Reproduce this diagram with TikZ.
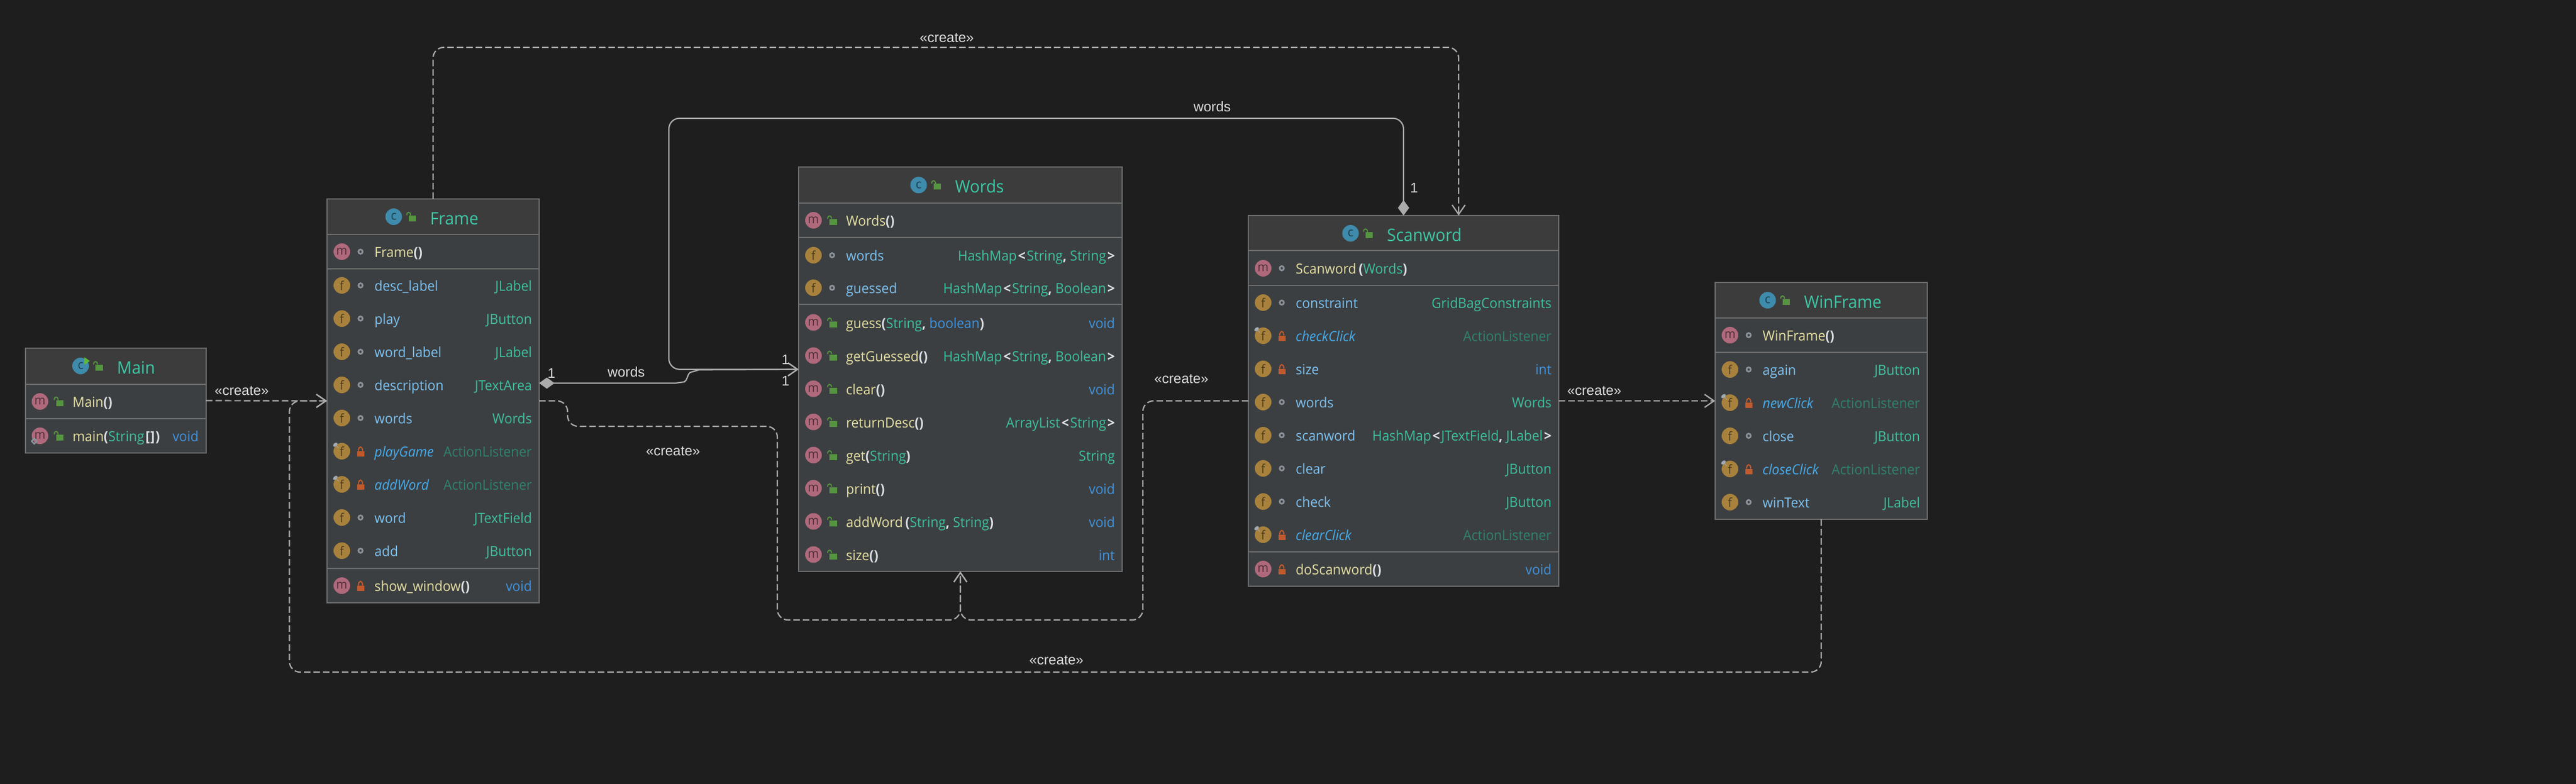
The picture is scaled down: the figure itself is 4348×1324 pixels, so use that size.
\documentclass[tikz,border=0pt]{standalone}
\usepackage{fontspec}
\setmainfont{Open Sans}[FakeStretch=0.95]
\newfontfamily\linkfont{Liberation Sans}
\usetikzlibrary{arrows.meta}

\definecolor{bgcol}{HTML}{1E1E1E}
\definecolor{bodycol}{HTML}{3C3F41}
\definecolor{headcol}{HTML}{3C3C3C}
\definecolor{rulecol}{HTML}{6E6E6E}
\definecolor{linkcol}{HTML}{ABABAB}
\definecolor{labelcol}{HTML}{DCDCDC}
\definecolor{titlecol}{HTML}{3CC8A6}
\definecolor{methcol}{HTML}{E6E0A2}
\definecolor{fieldcol}{HTML}{7CC2F2}
\definecolor{staticcol}{HTML}{45ADEF}
\definecolor{typecol}{HTML}{3CC0A0}
\definecolor{dimcol}{HTML}{2F8270}
\definecolor{kwcol}{HTML}{3E93E0}
\definecolor{parencol}{HTML}{DDE1E6}
\definecolor{mcol}{HTML}{B0697C}
\definecolor{fcol}{HTML}{A8823C}
\definecolor{ccol}{HTML}{3F8BAB}
\definecolor{opencol}{HTML}{559440}
\definecolor{lockcol}{HTML}{C05A2C}
\definecolor{dotcol}{HTML}{8B9199}
\definecolor{pincol}{HTML}{A2AAB2}
\definecolor{playcol}{HTML}{5FB83A}

\newcommand{\tp}[1]{\textcolor{typecol}{#1}}
\newcommand{\kw}[1]{\textcolor{kwcol}{#1}}
\newcommand{\pn}[1]{\textcolor{parencol}{\bfseries #1}}
\newcommand{\dimt}[1]{\textcolor{dimcol}{#1}}
\newcommand{\ltg}{\kern2pt\pn{<}\kern2pt}
\newcommand{\rtg}{\kern2pt\pn{>}}

\tikzset{
	classbody/.style={draw=rulecol,line width=2pt,fill=bodycol,anchor=north west,inner sep=0pt,outer sep=0pt},
	seprule/.style={draw=rulecol,line width=2pt},
	titletext/.style={anchor=base west,inner sep=0pt,text=titlecol,font=\fontsize{29}{32}\selectfont},
	methtext/.style={anchor=base west,inner sep=0pt,text=methcol,font=\fontsize{23.5}{26}\selectfont},
	fieldtext/.style={anchor=base west,inner sep=0pt,text=fieldcol,font=\fontsize{23.5}{26}\selectfont},
	statictext/.style={anchor=base west,inner sep=0pt,text=staticcol,font=\fontsize{23.5}{26}\selectfont\itshape},
	typetext/.style={anchor=base east,inner sep=0pt,text=typecol,font=\fontsize{23.5}{26}\selectfont},
	icondisc/.style={circle,inner sep=0pt,outer sep=0pt,minimum size=28pt,font=\fontsize{21}{21}\selectfont},
	linkline/.style={draw=linkcol,line width=2.2pt,rounded corners=18pt},
	createline/.style={linkline,dash pattern=on 11pt off 5pt,-{Straight Barb[length=16pt,width=22pt,line width=2.2pt]}},
	ownline/.style={linkline,{Diamond[length=26pt,width=19pt]}-{Straight Barb[length=16pt,width=22pt,line width=2.2pt]}},
	linklabel/.style={inner sep=0pt,text=labelcol,font=\linkfont\fontsize{23.5}{26}\selectfont},
	pics/cicon/.style={code={\node[icondisc,fill=ccol,text=ccol!45!black] (disc) at (0,0) {c};}},
	pics/micon/.style={code={\node[icondisc,fill=mcol,text=mcol!45!black] (disc) at (0,0) {m};}},
	pics/ficon/.style={code={\node[icondisc,fill=fcol,text=fcol!45!black] (disc) at (0,0) {f};}},
	pics/fstatic/.style={code={\node[icondisc,fill=fcol,text=fcol!45!black] (disc) at (0,0) {f};
		\fill[pincol,rotate around={40:(-11,-11)}] (-11,-11) ellipse [x radius=4.5,y radius=2.8];
		\draw[pincol,line width=.8pt] (-9,-9) -- (-5.5,-5.5);}},
	pics/mstatic/.style={code={\node[icondisc,fill=mcol,text=mcol!45!black] (disc) at (0,0) {m};
		\draw[dotcol,line width=2.5pt] (-9.7,4.5) -- (-5.2,9) -- (-9.7,13.5) -- (-14.2,9) -- cycle;}},
	pics/crun/.style={code={\fill[playcol] (6.3,-15) -- (15.6,-8.3) -- (6.3,-1.7) -- cycle;}},
	pics/unlocked/.style={code={\fill[opencol] (-4.5,-2) rectangle (8,8);
		\draw[opencol,line width=1.8pt] (-7.5,-2.5) .. controls (-7.5,-9) and (-1,-9) .. (-1,-2.5);}},
	pics/locked/.style={code={\fill[lockcol] (-6,-.5) rectangle (6,9);
		\draw[lockcol,line width=2pt] (-3.5,-.5) .. controls (-3.5,-9.5) and (3.5,-9.5) .. (3.5,-.5);}},
	pics/pkgdot/.style={code={\draw[dotcol,line width=2.8pt] (0,0) circle (3.6);}}
}

% name, x, y, w, h, title x, title, separators
\newcommand{\umlbox}[8]{%
	\def\rowright{#4-12}
	\node[classbody,minimum width=#4pt,minimum height=#5pt] (#1) at (#2,#3) {};
	\begin{scope}[shift={(#2,#3)}]
		\foreach \sep [count=\i] in {#8} {
			\ifnum\i=1 \fill[headcol] (1,1) rectangle (#4-1,\sep); \fi
			\draw[seprule] (1,\sep) -- (#4-1,\sep);
		}
		\pic (#1-kind) at (#6-61.5,30) {cicon};
		\pic (#1-vis) at (#6-32,30) {unlocked};
		\node[titletext] (#1-title) at (#6,43.5) {#7};
	\end{scope}
}
% box, id, y, icon, visibility, style, name, type
\newcommand{\umlrow}[8]{%
	\begin{scope}[shift={(#1.north west)}]
		\pic (#1-#2-icon) at (25,#3) {#4};
		\pic (#1-#2-vis) at (56.5,#3) {#5};
		\node[#6] (#1-#2-name) at (80,#3+9.5) {#7};
		\node[typetext] (#1-#2-type) at (\rowright,#3+9.5) {#8};
	\end{scope}
}
\newcommand{\methrow}[5]{\umlrow{#1}{#2}{#3}{micon}{#4}{methtext}{#5}}
\newcommand{\fieldrow}[4]{\umlrow{#1}{#2}{#3}{ficon}{pkgdot}{fieldtext}{#4}}
\newcommand{\staticrow}[3]{\umlrow{#1}{#2}{#3}{fstatic}{locked}{statictext}}

\begin{document}
\begin{tikzpicture}[x=1pt,y=-1pt]
	\useasboundingbox (0,0) rectangle (4348,1324);
	\fill[bgcol] (0,0) rectangle (4348,1324);

	\umlbox{main}{42.5}{588}{305}{177}{155}{Main}{61,119}
	\pic (main-run) at (136,618) {crun};
	\methrow{main}{1}{90}{unlocked}{Main\pn{()}}{}
	\umlrow{main}{2}{148}{mstatic}{unlocked}{methtext}{main\pn{(}\tp{String}\pn{\kern2pt[\kern1pt]\kern1pt)}}{\kw{void}}

	\umlbox{frame}{552}{336}{358}{682}{174}{Frame}{60,118,624}
	\methrow{frame}{1}{89}{pkgdot}{Frame\pn{()}}{}
	\fieldrow{frame}{2}{146}{desc\_label}{JLabel}
	\fieldrow{frame}{3}{202}{play}{JButton}
	\fieldrow{frame}{4}{258}{word\_label}{JLabel}
	\fieldrow{frame}{5}{314}{description}{JTextArea}
	\fieldrow{frame}{6}{370}{words}{Words}
	\staticrow{frame}{7}{426}{playGame}{\dimt{ActionListener}}
	\staticrow{frame}{8}{482}{addWord}{\dimt{ActionListener}}
	\fieldrow{frame}{9}{538}{word}{JTextField}
	\fieldrow{frame}{10}{594}{add}{JButton}
	\methrow{frame}{11}{653}{locked}{show\_window\pn{()}}{\kw{void}}

	\umlbox{words}{1348}{282.5}{546}{682.5}{264}{Words}{60.5,118,231.5}
	\methrow{words}{1}{89.5}{unlocked}{Words\pn{()}}{}
	\fieldrow{words}{2}{148.5}{words}{HashMap\ltg String\pn{,} String\rtg}
	\fieldrow{words}{3}{203.5}{guessed}{HashMap\ltg String\pn{,} Boolean\rtg}
	\methrow{words}{4}{262}{unlocked}{guess\pn{(}\tp{String}\pn{,} \kw{boolean}\pn{)}}{\kw{void}}
	\methrow{words}{5}{318}{unlocked}{getGuessed\pn{()}}{HashMap\ltg String\pn{,} Boolean\rtg}
	\methrow{words}{6}{374}{unlocked}{clear\pn{()}}{\kw{void}}
	\methrow{words}{7}{430}{unlocked}{returnDesc\pn{()}}{ArrayList\ltg String\rtg}
	\methrow{words}{8}{486}{unlocked}{get\pn{(}\tp{String}\pn{)}}{String}
	\methrow{words}{9}{542}{unlocked}{print\pn{()}}{\kw{void}}
	\methrow{words}{10}{598}{unlocked}{addWord\kern4pt\pn{(}\tp{String}\pn{,} \tp{String}\pn{)}}{\kw{void}}
	\methrow{words}{11}{654}{unlocked}{size\pn{()}}{\kw{int}}

	\umlbox{scanword}{2107}{364}{524}{626}{234}{Scanword}{59,118,567.5}
	\methrow{scanword}{1}{89}{pkgdot}{Scanword\kern4pt\pn{(}\tp{Words}\pn{)}}{}
	\fieldrow{scanword}{2}{147}{constraint}{GridBagConstraints}
	\staticrow{scanword}{3}{203}{checkClick}{\dimt{ActionListener}}
	\umlrow{scanword}{4}{259}{ficon}{locked}{fieldtext}{size}{\kw{int}}
	\fieldrow{scanword}{5}{315}{words}{Words}
	\fieldrow{scanword}{6}{371}{scanword}{HashMap\ltg JTextField\pn{,} JLabel\rtg}
	\fieldrow{scanword}{7}{427}{clear}{JButton}
	\fieldrow{scanword}{8}{483}{check}{JButton}
	\staticrow{scanword}{9}{539}{clearClick}{\dimt{ActionListener}}
	\methrow{scanword}{10}{597}{locked}{doScanword\pn{()}}{\kw{void}}

	\umlbox{winframe}{2895}{477}{358}{400}{150}{WinFrame}{60,118}
	\methrow{winframe}{1}{89}{pkgdot}{WinFrame\pn{()}}{}
	\fieldrow{winframe}{2}{147}{again}{JButton}
	\staticrow{winframe}{3}{203}{newClick}{\dimt{ActionListener}}
	\fieldrow{winframe}{4}{259}{close}{JButton}
	\staticrow{winframe}{5}{315}{closeClick}{\dimt{ActionListener}}
	\fieldrow{winframe}{6}{371}{winText}{JLabel}

	\coordinate (frmtop) at (731,80);
	\coordinate (scnarrow) at ([xshift=93pt]scanword.north);
	\coordinate (winbottom) at (488.5,1135);
	\coordinate (frmdown) at (958,720);
	\coordinate (frmbottom) at (1312,1047);
	\coordinate (scnbottom) at (1929,1047);
	\coordinate (ownport) at ([yshift=30pt]frame.east);
	\coordinate (ownloop) at (1129,199.7);

	\draw[createline] (main.east) -- (frame.west);
	\draw[createline] (winframe.south) |- (winbottom) |- (frame.west);
	\draw[createline] (frame.north) -- (frmtop) -| (scnarrow);
	\draw[createline] (frame.east) -| (frmdown) -| (frmbottom) -| (words.south);
	\draw[createline] (scanword.west) -| (scnbottom) -| (words.south);
	\draw[createline] (scanword.east) -- (winframe.west);
	\draw[ownline] (scanword.north) |- (ownloop) |- (words.west);
	\draw[ownline,rounded corners=0pt] (ownport) -- (1140,647) -- (1155,645) .. controls (1160,643) and (1160,632) .. (1165,629) -- (1180,624.5) -- (words.west);

	\node[linklabel] (lblmain) at (408,660) {«create»};
	\node[linklabel] (lbltop) at (1598,64) {«create»};
	\node[linklabel] (lblwin) at (1783,1115) {«create»};
	\node[linklabel] (lblfrm) at (1136,762) {«create»};
	\node[linklabel] (lblscn) at (1994,640) {«create»};
	\node[linklabel] (lblout) at (2691,660) {«create»};
	\node[linklabel] (lblwords) at (1057,628) {words};
	\node[linklabel] (lblloop) at (2046,180) {words};
	\node[linklabel] (lblone) at (931,630) {1};
	\node[linklabel] (lbltwo) at (1326,607) {1};
	\node[linklabel] (lblthree) at (1326,643) {1};
	\node[linklabel] (lblfour) at (2387,317) {1};
\end{tikzpicture}
\end{document}
